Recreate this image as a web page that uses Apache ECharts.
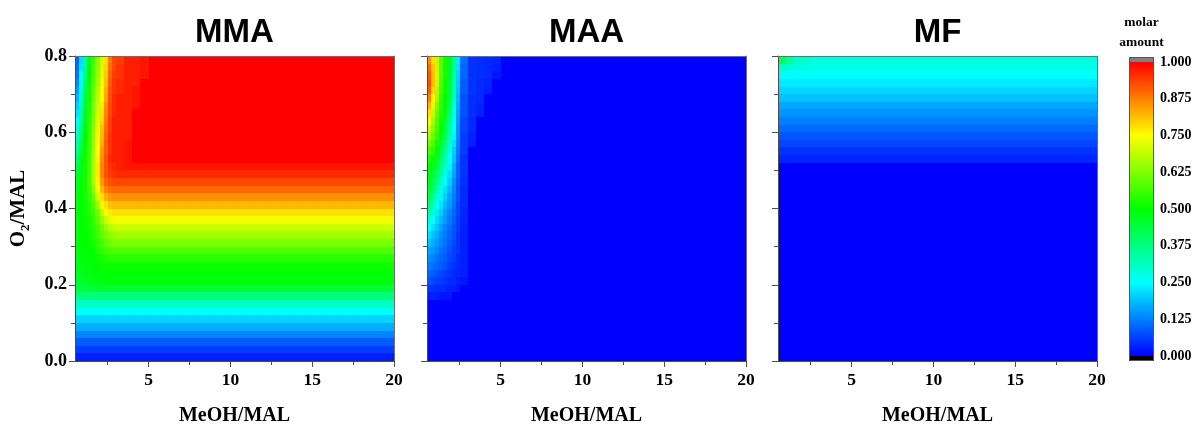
<!DOCTYPE html>
<html><head><meta charset="utf-8">
<script src="https://cdn.jsdelivr.net/npm/echarts@6.0.0/dist/echarts.min.js"></script>
<style>html,body{margin:0;padding:0;background:#fff}#chart{width:1198px;height:426px}</style>
</head><body><div id="chart"></div>
<script>
// ---------------- data ----------------
const panelTitles = ['MMA', 'MAA', 'MF'];
const xAxisName = 'MeOH/MAL';
const colorbarTitle = 'molar\namount';
const xRange = [0.5, 20];
const yRange = [0, 0.8];
const xMajorTicks = [5, 10, 15, 20];
const xMinorTicks = [2.5, 7.5, 12.5, 17.5];
const yMajorTicks = [0, 0.2, 0.4, 0.6, 0.8];
const yMinorTicks = [0.1, 0.3, 0.5, 0.7];
const colorbarTicks = [0, 0.125, 0.25, 0.375, 0.5, 0.625, 0.75, 0.875, 1];
const colorbarRange = [0, 1];

// row edges of the value grid, top (0.8) to bottom (0.0)
const yEdges = [0.80,0.78,0.76,0.74,0.72,0.70,0.68,0.66,0.64,0.62,0.60,0.58,0.56,0.54,0.52,0.50,0.48,0.46,0.44,0.42,0.40,0.38,0.36,0.34,0.32,0.30,0.28,0.26,0.24,0.22,0.20,0.18,0.16,0.14,0.12,0.10,0.08,0.06,0.04,0.02,0.00];

// MMA
const mmaXEdges = [0.5,0.75,1,1.25,1.5,1.75,2,2.25,2.5,2.75,3,3.5,4,4.5,5,20];
const mmaValues = [
[0.10,0.22,0.36,0.48,0.56,0.63,0.70,0.78,0.88,0.93,0.94,0.97,0.97,0.98,1.00],
[0.11,0.23,0.37,0.49,0.57,0.64,0.71,0.79,0.89,0.93,0.95,0.97,0.97,0.98,1.00],
[0.12,0.25,0.39,0.50,0.58,0.65,0.72,0.80,0.90,0.94,0.95,0.97,0.97,0.98,1.00],
[0.14,0.27,0.41,0.51,0.59,0.66,0.73,0.81,0.91,0.95,0.96,0.97,0.97,1.00,1.00],
[0.16,0.29,0.43,0.52,0.60,0.67,0.74,0.83,0.92,0.95,0.96,0.97,0.98,1.00,1.00],
[0.18,0.31,0.45,0.52,0.61,0.68,0.75,0.84,0.92,0.96,0.97,0.97,0.98,1.00,1.00],
[0.20,0.33,0.46,0.53,0.62,0.69,0.77,0.86,0.93,0.96,0.97,0.97,0.98,1.00,1.00],
[0.22,0.35,0.47,0.53,0.62,0.70,0.78,0.87,0.93,0.96,0.97,0.97,1.00,1.00,1.00],
[0.25,0.37,0.48,0.54,0.63,0.71,0.79,0.88,0.94,0.97,0.97,0.97,1.00,1.00,1.00],
[0.28,0.39,0.49,0.55,0.64,0.72,0.81,0.89,0.94,0.97,0.97,0.97,1.00,1.00,1.00],
[0.31,0.41,0.50,0.55,0.65,0.73,0.82,0.90,0.95,0.97,0.97,0.97,1.00,1.00,1.00],
[0.34,0.43,0.50,0.56,0.65,0.74,0.83,0.91,0.95,0.97,0.97,0.98,1.00,1.00,1.00],
[0.37,0.45,0.51,0.56,0.66,0.75,0.85,0.91,0.95,0.97,0.97,0.98,1.00,1.00,1.00],
[0.40,0.47,0.51,0.57,0.66,0.76,0.86,0.92,0.96,0.97,0.97,0.98,1.00,1.00,1.00],
[0.43,0.48,0.52,0.57,0.67,0.77,0.87,0.92,0.95,0.96,0.97,0.98,0.98,0.98,0.98],
[0.45,0.49,0.52,0.57,0.67,0.77,0.87,0.92,0.94,0.95,0.96,0.96,0.96,0.96,0.96],
[0.47,0.50,0.52,0.57,0.66,0.76,0.85,0.90,0.92,0.93,0.93,0.93,0.93,0.93,0.93],
[0.48,0.50,0.52,0.56,0.64,0.74,0.82,0.87,0.89,0.90,0.90,0.90,0.90,0.90,0.90],
[0.49,0.50,0.52,0.55,0.61,0.70,0.78,0.83,0.85,0.86,0.86,0.86,0.86,0.86,0.86],
[0.49,0.50,0.51,0.54,0.58,0.65,0.73,0.78,0.81,0.82,0.82,0.82,0.82,0.82,0.82],
[0.49,0.50,0.51,0.53,0.56,0.61,0.68,0.74,0.77,0.78,0.78,0.78,0.78,0.78,0.78],
[0.49,0.50,0.51,0.52,0.55,0.59,0.64,0.69,0.72,0.73,0.74,0.74,0.74,0.74,0.74],
[0.49,0.50,0.51,0.52,0.54,0.57,0.61,0.65,0.68,0.69,0.70,0.70,0.70,0.70,0.70],
[0.49,0.50,0.50,0.51,0.53,0.56,0.59,0.62,0.64,0.65,0.66,0.66,0.66,0.66,0.66],
[0.49,0.50,0.50,0.51,0.52,0.54,0.57,0.59,0.61,0.62,0.62,0.62,0.62,0.62,0.62],
[0.49,0.49,0.50,0.50,0.51,0.53,0.55,0.56,0.57,0.58,0.58,0.58,0.58,0.58,0.58],
[0.49,0.49,0.49,0.50,0.50,0.51,0.52,0.53,0.54,0.54,0.54,0.54,0.54,0.54,0.54],
[0.48,0.48,0.49,0.49,0.50,0.50,0.51,0.51,0.51,0.51,0.51,0.51,0.51,0.51,0.51],
[0.47,0.47,0.48,0.48,0.49,0.49,0.50,0.50,0.50,0.50,0.50,0.50,0.50,0.50,0.50],
[0.46,0.46,0.47,0.47,0.48,0.48,0.49,0.49,0.49,0.49,0.49,0.49,0.49,0.49,0.49],
[0.44,0.44,0.44,0.45,0.45,0.45,0.45,0.45,0.45,0.45,0.45,0.45,0.45,0.45,0.45],
[0.38,0.38,0.38,0.38,0.38,0.38,0.38,0.38,0.38,0.38,0.38,0.38,0.38,0.38,0.38],
[0.31,0.31,0.31,0.31,0.31,0.31,0.31,0.31,0.31,0.31,0.31,0.31,0.31,0.31,0.31],
[0.25,0.25,0.25,0.25,0.25,0.25,0.25,0.25,0.25,0.25,0.25,0.25,0.25,0.25,0.25],
[0.21,0.21,0.21,0.21,0.21,0.21,0.21,0.21,0.21,0.21,0.21,0.21,0.21,0.21,0.21],
[0.17,0.17,0.17,0.17,0.17,0.17,0.17,0.17,0.17,0.17,0.17,0.17,0.17,0.17,0.17],
[0.13,0.13,0.13,0.13,0.13,0.13,0.13,0.13,0.13,0.13,0.13,0.13,0.13,0.13,0.13],
[0.09,0.09,0.09,0.09,0.09,0.09,0.09,0.09,0.09,0.09,0.09,0.09,0.09,0.09,0.09],
[0.06,0.06,0.06,0.06,0.06,0.06,0.06,0.06,0.06,0.06,0.06,0.06,0.06,0.06,0.06],
[0.03,0.03,0.03,0.03,0.03,0.03,0.03,0.03,0.03,0.03,0.03,0.03,0.03,0.03,0.03]
];

// MAA
const maaXEdges = [0.5,0.75,1,1.25,1.5,1.75,2,2.25,2.5,3,3.5,4,4.5,5,20];
const maaValues = [
[0.86,0.78,0.68,0.58,0.52,0.47,0.37,0.23,0.11,0.05,0.045,0.04,0.035,0],
[0.89,0.80,0.69,0.58,0.52,0.47,0.36,0.22,0.10,0.05,0.045,0.04,0.03,0],
[0.91,0.81,0.70,0.58,0.52,0.46,0.35,0.21,0.10,0.05,0.045,0.04,0.02,0],
[0.92,0.81,0.69,0.57,0.51,0.45,0.34,0.20,0.09,0.05,0.04,0.035,0,0],
[0.91,0.79,0.67,0.56,0.51,0.44,0.33,0.19,0.09,0.05,0.04,0.03,0,0],
[0.87,0.76,0.65,0.55,0.50,0.43,0.32,0.18,0.08,0.045,0.04,0,0,0],
[0.82,0.72,0.62,0.54,0.49,0.42,0.30,0.17,0.08,0.045,0.035,0,0,0],
[0.78,0.69,0.60,0.53,0.48,0.40,0.29,0.16,0.08,0.045,0.03,0,0,0],
[0.74,0.66,0.58,0.51,0.45,0.37,0.26,0.15,0.07,0.04,0,0,0,0],
[0.70,0.63,0.56,0.50,0.43,0.35,0.25,0.14,0.07,0.04,0,0,0,0],
[0.66,0.60,0.54,0.48,0.41,0.33,0.24,0.14,0.06,0.035,0,0,0,0],
[0.61,0.57,0.52,0.45,0.38,0.31,0.22,0.13,0.06,0.03,0,0,0,0],
[0.57,0.54,0.49,0.42,0.35,0.28,0.20,0.12,0.06,0,0,0,0,0],
[0.53,0.51,0.46,0.39,0.32,0.26,0.19,0.11,0.05,0,0,0,0,0],
[0.50,0.48,0.43,0.36,0.30,0.24,0.17,0.10,0.05,0,0,0,0,0],
[0.48,0.45,0.40,0.33,0.27,0.22,0.16,0.10,0.05,0,0,0,0,0],
[0.47,0.42,0.36,0.30,0.25,0.20,0.14,0.09,0.045,0,0,0,0,0],
[0.45,0.39,0.32,0.27,0.22,0.18,0.13,0.08,0.04,0,0,0,0,0],
[0.42,0.35,0.29,0.24,0.20,0.16,0.12,0.08,0.04,0,0,0,0,0],
[0.38,0.31,0.26,0.22,0.18,0.15,0.11,0.07,0.04,0,0,0,0,0],
[0.33,0.28,0.23,0.20,0.16,0.13,0.10,0.07,0.035,0,0,0,0,0],
[0.28,0.25,0.21,0.18,0.15,0.12,0.09,0.06,0.035,0,0,0,0,0],
[0.25,0.22,0.19,0.16,0.13,0.11,0.08,0.06,0.03,0,0,0,0,0],
[0.22,0.19,0.17,0.14,0.12,0.10,0.08,0.05,0.03,0,0,0,0,0],
[0.19,0.17,0.15,0.13,0.11,0.09,0.07,0.05,0.03,0,0,0,0,0],
[0.16,0.15,0.13,0.11,0.10,0.08,0.06,0.05,0.03,0,0,0,0,0],
[0.14,0.13,0.11,0.10,0.09,0.07,0.06,0.04,0.03,0,0,0,0,0],
[0.12,0.11,0.10,0.09,0.08,0.06,0.05,0.04,0.03,0,0,0,0,0],
[0.10,0.09,0.08,0.07,0.06,0.05,0.04,0.035,0.03,0,0,0,0,0],
[0.08,0.07,0.06,0.06,0.05,0.04,0.04,0.03,0.02,0,0,0,0,0],
[0.05,0.05,0.04,0.04,0.04,0.03,0.03,0.02,0,0,0,0,0,0],
[0.03,0.03,0.03,0.02,0.02,0.02,0,0,0,0,0,0,0,0],
[0,0,0,0,0,0,0,0,0,0,0,0,0,0],
[0,0,0,0,0,0,0,0,0,0,0,0,0,0],
[0,0,0,0,0,0,0,0,0,0,0,0,0,0],
[0,0,0,0,0,0,0,0,0,0,0,0,0,0],
[0,0,0,0,0,0,0,0,0,0,0,0,0,0],
[0,0,0,0,0,0,0,0,0,0,0,0,0,0],
[0,0,0,0,0,0,0,0,0,0,0,0,0,0],
[0,0,0,0,0,0,0,0,0,0,0,0,0,0]
];

// MF
const mfXEdges = [0.5,1,1.5,2.5,4,20];
const mfValues = [
[0.42,0.35,0.30,0.28,0.28],
[0.31,0.29,0.28,0.27,0.27],
[0.26,0.25,0.25,0.25,0.25],
[0.23,0.23,0.23,0.23,0.23],
[0.21,0.21,0.21,0.21,0.21],
[0.19,0.19,0.19,0.19,0.19],
[0.165,0.165,0.165,0.165,0.165],
[0.145,0.145,0.145,0.145,0.145],
[0.125,0.125,0.125,0.125,0.125],
[0.105,0.105,0.105,0.105,0.105],
[0.085,0.085,0.085,0.085,0.085],
[0.07,0.07,0.07,0.07,0.07],
[0.05,0.05,0.05,0.05,0.05],
[0.035,0.035,0.035,0.035,0.035],
[0,0,0,0,0],[0,0,0,0,0],[0,0,0,0,0],[0,0,0,0,0],[0,0,0,0,0],[0,0,0,0,0],
[0,0,0,0,0],[0,0,0,0,0],[0,0,0,0,0],[0,0,0,0,0],[0,0,0,0,0],[0,0,0,0,0],
[0,0,0,0,0],[0,0,0,0,0],[0,0,0,0,0],[0,0,0,0,0],[0,0,0,0,0],[0,0,0,0,0],
[0,0,0,0,0],[0,0,0,0,0],[0,0,0,0,0],[0,0,0,0,0],[0,0,0,0,0],[0,0,0,0,0],
[0,0,0,0,0],[0,0,0,0,0]
];

// ---------------- chart ----------------
const palette = ['#0000ff', '#00ffff', '#00ff00', '#ffff00', '#ff0000'];
const SERIF = '"Liberation Serif", "Times New Roman", serif';
const SANS = '"Liberation Sans", Arial, sans-serif';
const AX = '#4d4d4d';

function buildCells(xEdges, values) {
  const cells = [];
  values.forEach((row, r) => row.forEach((v, c) => {
    cells.push([xEdges[c], xEdges[c + 1], yEdges[r + 1], yEdges[r], v]);
  }));
  return cells;
}
const panelData = [
  buildCells(mmaXEdges, mmaValues),
  buildCells(maaXEdges, maaValues),
  buildCells(mfXEdges, mfValues)
];

const panelLefts = [75, 427, 778];
const grids = panelLefts.map(l => ({ left: l, top: 56, width: 319, height: 305, outerBoundsMode: 'none', containLabel: false }));
grids.push({ left: 1129, top: 57, width: 25, height: 304, outerBoundsMode: 'none', containLabel: false });

const xAxes = [], yAxes = [], series = [];
const labelStyle = { fontFamily: SERIF, fontWeight: 'bold', color: '#000' };

panelTitles.forEach((title, i) => {
  xAxes.push({
    gridIndex: i, type: 'value', min: xRange[0], max: xRange[1], position: 'bottom', z: 10,
    axisLine: { show: true, onZero: false, lineStyle: { color: AX, width: 1 } },
    axisTick: { show: true, customValues: xMajorTicks, length: 6, lineStyle: { color: AX } },
    axisLabel: Object.assign({ show: true, customValues: xMajorTicks, margin: 10, fontSize: 17.5 }, labelStyle),
    splitLine: { show: false },
    name: xAxisName, nameLocation: 'middle', nameGap: 45,
    nameTextStyle: Object.assign({ fontSize: 20 }, labelStyle)
  });
  xAxes.push({
    gridIndex: i, type: 'value', min: xRange[0], max: xRange[1], position: 'bottom', z: 10,
    axisLine: { show: false },
    axisTick: { show: true, customValues: xMinorTicks, length: 4, lineStyle: { color: AX } },
    axisLabel: { show: false }, splitLine: { show: false }
  });
  xAxes.push({
    gridIndex: i, type: 'value', min: xRange[0], max: xRange[1], position: 'top', z: 10,
    axisLine: { show: true, onZero: false, lineStyle: { color: '#6e6e6e', width: 1 } },
    axisTick: { show: false }, axisLabel: { show: false }, splitLine: { show: false },
    name: title, nameLocation: 'middle', nameGap: 7,
    nameTextStyle: { fontFamily: SANS, fontWeight: 'bold', fontSize: 33, color: '#000' }
  });

  yAxes.push({
    gridIndex: i, type: 'value', min: yRange[0], max: yRange[1], position: 'left', z: 10,
    axisLine: { show: true, onZero: false, lineStyle: { color: AX, width: 1 } },
    axisTick: { show: true, customValues: yMajorTicks, length: 6, lineStyle: { color: AX } },
    axisLabel: Object.assign({ show: i === 0, customValues: yMajorTicks, margin: 8, fontSize: 18,
      formatter: v => v.toFixed(1) }, labelStyle),
    splitLine: { show: false },
    name: i === 0 ? '{b|O}{s|2}{b|/MAL}' : '', nameLocation: 'middle', nameGap: 43,
    nameTextStyle: {
      rich: {
        b: { fontFamily: SERIF, fontWeight: 'bold', fontSize: 21, color: '#000', lineHeight: 26, verticalAlign: 'middle' },
        s: { fontFamily: SERIF, fontWeight: 'bold', fontSize: 13, color: '#000', lineHeight: 13, verticalAlign: 'bottom' }
      }
    }
  });
  yAxes.push({
    gridIndex: i, type: 'value', min: yRange[0], max: yRange[1], position: 'left', z: 10,
    axisLine: { show: false },
    axisTick: { show: true, customValues: yMinorTicks, length: 4, lineStyle: { color: AX } },
    axisLabel: { show: false }, splitLine: { show: false }
  });
  yAxes.push({
    gridIndex: i, type: 'value', min: yRange[0], max: yRange[1], position: 'right', z: 10,
    axisLine: { show: true, onZero: false, lineStyle: { color: '#6e6e6e', width: 1 } },
    axisTick: { show: false }, axisLabel: { show: false }, splitLine: { show: false }
  });

  series.push({
    type: 'custom', name: title, xAxisIndex: 3 * i, yAxisIndex: 3 * i, z: 1,
    encode: { x: [0, 1], y: [2, 3] },
    data: panelData[i],
    silent: true,
    renderItem: function (params, api) {
      const a = api.coord([api.value(0), api.value(3)]);
      const b = api.coord([api.value(1), api.value(2)]);
      const x0 = Math.round(a[0]), y0 = Math.round(a[1]);
      const x1 = Math.round(b[0]), y1 = Math.round(b[1]);
      return { type: 'rect', shape: { x: x0, y: y0, width: x1 - x0, height: y1 - y0 },
        style: { fill: api.visual('color') } };
    }
  });
});

// colour bar (grid 3)
xAxes.push({
  gridIndex: 3, type: 'value', min: 0, max: 1, position: 'top',
  axisLine: { show: false }, axisTick: { show: false }, axisLabel: { show: false }, splitLine: { show: false },
  name: colorbarTitle, nameLocation: 'middle', nameGap: 4,
  nameTextStyle: Object.assign({ fontSize: 13.5, lineHeight: 20 }, labelStyle)
});
yAxes.push({
  gridIndex: 3, type: 'value', min: -0.017, max: 1.017, position: 'right',
  axisLine: { show: false },
  axisTick: { show: true, customValues: colorbarTicks, length: 3, lineStyle: { color: '#333' } },
  axisLabel: Object.assign({ show: true, customValues: colorbarTicks, margin: 6, fontSize: 14,
    formatter: v => v.toFixed(3) }, labelStyle),
  splitLine: { show: false }
});
series.push({
  type: 'custom', xAxisIndex: 9, yAxisIndex: 9, silent: true, z: 1,
  data: [colorbarRange],
  renderItem: function (params, api) {
    const cs = params.coordSys;
    const top = Math.round(api.coord([0, api.value(1)])[1]);
    const bottom = Math.round(api.coord([0, api.value(0)])[1]);
    const stops = palette.map((c, k) => ({ offset: 1 - k / (palette.length - 1), color: c }));
    return { type: 'group', children: [
      { type: 'rect', shape: { x: cs.x, y: cs.y, width: cs.width, height: top - cs.y }, style: { fill: '#808080' } },
      { type: 'rect', shape: { x: cs.x, y: top, width: cs.width, height: bottom - top },
        style: { fill: new echarts.graphic.LinearGradient(0, 0, 0, 1, stops.slice().reverse()) } },
      { type: 'rect', shape: { x: cs.x, y: bottom, width: cs.width, height: cs.y + cs.height - bottom }, style: { fill: '#000' } },
      { type: 'rect', shape: { x: cs.x + 0.5, y: cs.y + 0.5, width: cs.width - 1, height: cs.height - 1 },
        style: { fill: 'none', stroke: '#555', lineWidth: 1 } }
    ] };
  }
});

const chart = echarts.init(document.getElementById('chart'), null, { renderer: 'canvas' });
chart.setOption({
  animation: false,
  backgroundColor: '#fff',
  grid: grids,
  xAxis: xAxes,
  yAxis: yAxes,
  visualMap: {
    type: 'continuous', show: false, min: 0, max: 1, dimension: 4,
    seriesIndex: [0, 1, 2], inRange: { color: palette }
  },
  series: series
});
</script>
</body></html>
